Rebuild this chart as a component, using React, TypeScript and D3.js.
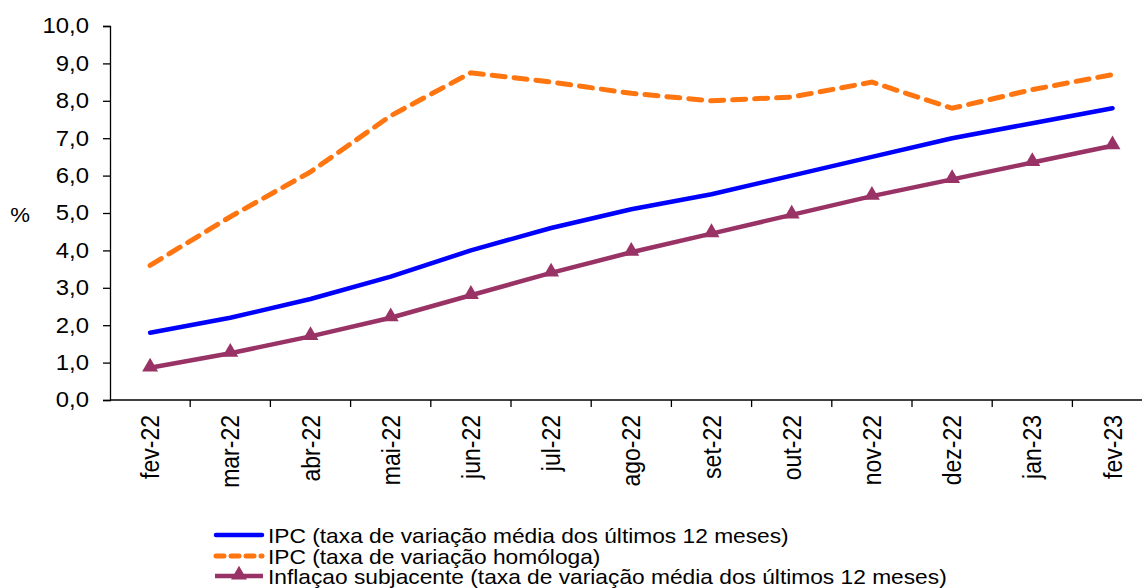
import React, { useEffect, useRef } from 'react';
import * as d3 from 'd3';

const months = ['fev-22', 'mar-22', 'abr-22', 'mai-22', 'jun-22', 'jul-22', 'ago-22', 'set-22', 'out-22', 'nov-22', 'dez-22', 'jan-23', 'fev-23'];
const ipcMedia = [1.8, 2.2, 2.7, 3.3, 4.0, 4.6, 5.1, 5.5, 6.0, 6.5, 7.0, 7.4, 7.8];
const ipcHomologa = [3.6, 4.9, 6.1, 7.6, 8.75, 8.5, 8.2, 8.0, 8.1, 8.5, 7.8, 8.3, 8.7];
const subjacente = [0.86, 1.25, 1.7, 2.2, 2.8, 3.4, 3.95, 4.45, 4.95, 5.45, 5.9, 6.35, 6.8];
const yTicks = [0, 1, 2, 3, 4, 5, 6, 7, 8, 9, 10];
const legendLabels = [
  'IPC (taxa de variação média dos últimos 12 meses)',
  'IPC (taxa de variação homóloga)',
  'Inflaçao subjacente (taxa de variação média dos últimos 12 meses)',
];

const W = 1142;
const H = 588;
const FONT = 'Liberation Sans, Arial, sans-serif';
const BLUE = '#0000ff';
const ORANGE = '#ff7510';
const PURPLE = '#993366';
// the text in the picture is a bit wider than it is tall
const STRETCH = 1.11;

export default function App() {
  const ref = useRef<SVGSVGElement>(null);

  useEffect(() => {
    const svg = d3.select(ref.current);
    svg.selectAll('*').remove();

    const x = d3.scaleBand().domain(months).range([110, 110 + 13 * 80.2]);
    const y = d3.scaleLinear().domain([0, 10]).range([400, 26]);
    const cx = (m: string) => (x(m) as number) + x.bandwidth() / 2;

    // y axis
    const yAxis = svg.append('g')
      .attr('transform', 'translate(110,0)')
      .call(d3.axisLeft(y).tickValues(yTicks).tickSize(7).tickPadding(12)
        .tickFormat(d => d3.format('.1f')(d as number).replace('.', ',')));
    yAxis.select('.domain').attr('stroke', '#000').attr('stroke-width', 1.3);
    yAxis.selectAll('.tick line').attr('stroke', '#000').attr('stroke-width', 1.3);
    yAxis.selectAll('.tick text')
      .attr('font-family', FONT)
      .attr('font-size', 21.5)
      .attr('fill', '#000')
      .attr('transform', `scale(${STRETCH},1)`);

    // x axis
    const xAxis = svg.append('g')
      .attr('transform', 'translate(0,400)');
    xAxis.append('line')
      .attr('x1', 110).attr('x2', W)
      .attr('stroke', '#000').attr('stroke-width', 1.3);
    xAxis.selectAll('line.tk')
      .data(months)
      .enter()
      .append('line')
      .attr('class', 'tk')
      .attr('x1', d => (x(d) as number) + x.bandwidth())
      .attr('x2', d => (x(d) as number) + x.bandwidth())
      .attr('y1', 0).attr('y2', 7)
      .attr('stroke', '#000').attr('stroke-width', 1.3);
    xAxis.selectAll('text')
      .data(months)
      .enter()
      .append('text')
      .attr('transform', d => `translate(${cx(d) + 9},15) rotate(-90) scale(1,${STRETCH})`)
      .attr('text-anchor', 'end')
      .attr('font-family', FONT)
      .attr('font-size', 23)
      .text(d => d);

    svg.append('text')
      .attr('transform', `translate(20,222) scale(${STRETCH},1)`)
      .attr('text-anchor', 'middle')
      .attr('font-family', FONT)
      .attr('font-size', 20)
      .text('%');

    const line = d3.line<number>()
      .x((d, i) => cx(months[i]))
      .y(d => y(d));

    svg.append('path')
      .datum(ipcHomologa)
      .attr('fill', 'none')
      .attr('stroke', ORANGE)
      .attr('stroke-width', 5)
      .attr('stroke-dasharray', '13,9')
      .attr('stroke-linecap', 'round')
      .attr('d', line);

    svg.append('path')
      .datum(ipcMedia)
      .attr('fill', 'none')
      .attr('stroke', BLUE)
      .attr('stroke-width', 4.5)
      .attr('stroke-linecap', 'round')
      .attr('stroke-linejoin', 'round')
      .attr('d', line);

    svg.append('path')
      .datum(subjacente)
      .attr('fill', 'none')
      .attr('stroke', PURPLE)
      .attr('stroke-width', 4.5)
      .attr('stroke-linejoin', 'round')
      .attr('d', line);

    const tri = d3.symbol().type(d3.symbolTriangle).size(110);
    svg.selectAll('path.mk')
      .data(subjacente)
      .enter()
      .append('path')
      .attr('class', 'mk')
      .attr('transform', (d, i) => `translate(${cx(months[i])},${y(d) - 1})`)
      .attr('d', tri)
      .attr('fill', PURPLE);

    // legend
    const leg = svg.append('g');
    const rows = [535, 556, 576];
    leg.append('line').attr('x1', 216).attr('x2', 262).attr('y1', rows[0]).attr('y2', rows[0])
      .attr('stroke', BLUE).attr('stroke-width', 4.5).attr('stroke-linecap', 'round');
    leg.append('line').attr('x1', 216).attr('x2', 262).attr('y1', rows[1]).attr('y2', rows[1])
      .attr('stroke', ORANGE).attr('stroke-width', 5).attr('stroke-dasharray', '8,7').attr('stroke-linecap', 'round');
    leg.append('line').attr('x1', 215).attr('x2', 263).attr('y1', rows[2]).attr('y2', rows[2])
      .attr('stroke', PURPLE).attr('stroke-width', 4.5);
    leg.append('path').attr('transform', `translate(239,${rows[2] - 1})`).attr('d', tri).attr('fill', PURPLE);
    leg.selectAll('text')
      .data(legendLabels)
      .enter()
      .append('text')
      .attr('transform', (d, i) => `translate(268,${rows[i] + 7.5}) scale(${STRETCH},1)`)
      .attr('font-family', FONT)
      .attr('font-size', 20.5)
      .text(d => d);
  }, []);

  return (
    <svg ref={ref} width={W} height={H}
      style={{ position: 'absolute', left: 0, top: 0, background: '#fff' }} />
  );
}
